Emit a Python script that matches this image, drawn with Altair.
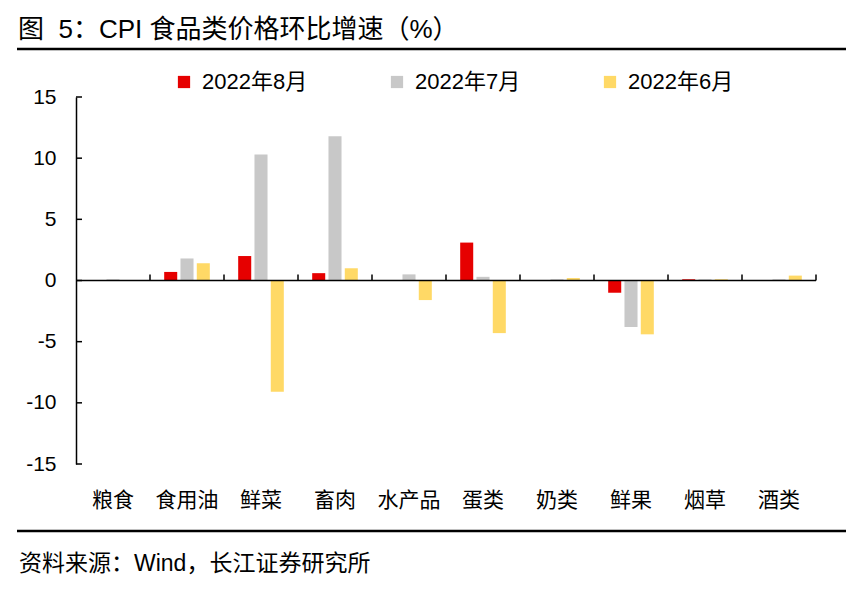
import altair as alt
import pandas as pd

FONT = "Liberation Sans, Noto Sans CJK SC, sans-serif"

categories = ["粮食", "食用油", "鲜菜", "畜肉", "水产品", "蛋类", "奶类", "鲜果", "烟草", "酒类"]
series = ["2022年8月", "2022年7月", "2022年6月"]
colors = ["#E60000", "#C8C8C8", "#FFD966"]
aug = [0.0, 0.7, 2.0, 0.6, 0.0, 3.1, 0.0, -1.0, 0.1, 0.0]
jul = [0.1, 1.8, 10.3, 11.8, 0.5, 0.3, 0.1, -3.8, 0.1, 0.1]
jun = [0.0, 1.4, -9.1, 1.0, -1.6, -4.3, 0.2, -4.4, 0.1, 0.4]
y_ticks = [-15, -10, -5, 0, 5, 10, 15]
title_text = "图\u00a0\u00a05：CPI 食品类价格环比增速（%）"
source_text = "资料来源：Wind，长江证券研究所"

rows = []
for name, vals in zip(series, [aug, jul, jun]):
    for c, v in zip(categories, vals):
        rows.append({"category": c, "series": name, "value": v})
df = pd.DataFrame(rows)

x_enc = alt.X(
    "category:N",
    sort=categories,
    scale=alt.Scale(paddingInner=0, paddingOuter=0),
    axis=alt.Axis(
        title=None, labelAngle=0, domain=False, ticks=False, labelPadding=25,
        labelFontSize=21, labelFont=FONT, labelColor="black", labelBaseline="top",
    ),
)
y_scale = alt.Scale(domain=[-15, 15], nice=False, zero=False)

bars = alt.Chart(df).mark_bar().encode(
    x=x_enc,
    xOffset=alt.XOffset("series:N", sort=series,
                        scale=alt.Scale(paddingInner=0.2, paddingOuter=0.87)),
    y=alt.Y("value:Q", scale=y_scale,
            axis=alt.Axis(title=None, values=y_ticks, ticks=False, grid=False,
                          domain=True, domainColor="black", domainWidth=1.5,
                          labelPadding=20, labelFontSize=21, labelFont=FONT,
                          labelColor="black", labelExpr="toString(datum.value)")),
    color=alt.Color("series:N", sort=series,
                    scale=alt.Scale(domain=series, range=colors),
                    legend=alt.Legend(
                        title=None, orient="none", legendX=97, legendY=-26,
                        direction="horizontal", symbolType="square",
                        symbolSize=150, symbolStrokeWidth=0, labelOffset=7,
                        columnPadding=78, labelFontSize=22, labelFont=FONT,
                        labelColor="black", padding=0, symbolOpacity=1)),
)

zero_df = pd.DataFrame({"z": [0]})
zero_rule = alt.Chart(zero_df).mark_rule(color="black", strokeWidth=1.5).encode(
    y=alt.Y("z:Q", scale=y_scale)
)

bound_df = pd.DataFrame({"category": categories, "lo": [0.0] * len(categories),
                         "hi": [0.5] * len(categories)})
bound_ticks = alt.Chart(bound_df).mark_rule(color="black", strokeWidth=1.5).encode(
    x=alt.X("category:N", sort=categories, bandPosition=1),
    y=alt.Y("lo:Q", scale=y_scale),
    y2=alt.Y2("hi:Q"),
)

ytick_df = pd.DataFrame({"t": y_ticks})
y_inner_ticks = alt.Chart(ytick_df).mark_rule(color="black", strokeWidth=1.5).encode(
    y=alt.Y("t:Q", scale=y_scale),
    x=alt.value(0),
    x2=alt.value(6),
)

title_df = pd.DataFrame({"t": [title_text]})
title = alt.Chart(title_df).mark_text(
    align="left", baseline="alphabetic", fontSize=26, font=FONT, color="black"
).encode(text="t:N", x=alt.value(-58), y=alt.value(-59))

src_df = pd.DataFrame({"t": [source_text]})
source = alt.Chart(src_df).mark_text(
    align="left", baseline="middle", fontSize=23, font=FONT, color="black"
).encode(text="t:N", x=alt.value(-57), y=alt.value(467))

top_line = alt.Chart(zero_df).mark_rule(color="black", strokeWidth=2.5).encode(
    x=alt.value(-59), x2=alt.value(772), y=alt.value(-48)
)
bottom_line = alt.Chart(zero_df).mark_rule(color="black", strokeWidth=2.5).encode(
    x=alt.value(-59), x2=alt.value(772), y=alt.value(434)
)

chart = alt.layer(
    bars, zero_rule, bound_ticks, y_inner_ticks, title, source, top_line, bottom_line
).resolve_scale(y="shared").properties(
    width=740, height=367,
    autosize=alt.AutoSizeParams(type="none"),
    padding={"left": 68, "top": 89, "right": 30, "bottom": 113},
).configure(background="white").configure_view(strokeWidth=0, stroke="transparent")

chart.save("out.html", embed_options={"renderer": "svg", "actions": False})
